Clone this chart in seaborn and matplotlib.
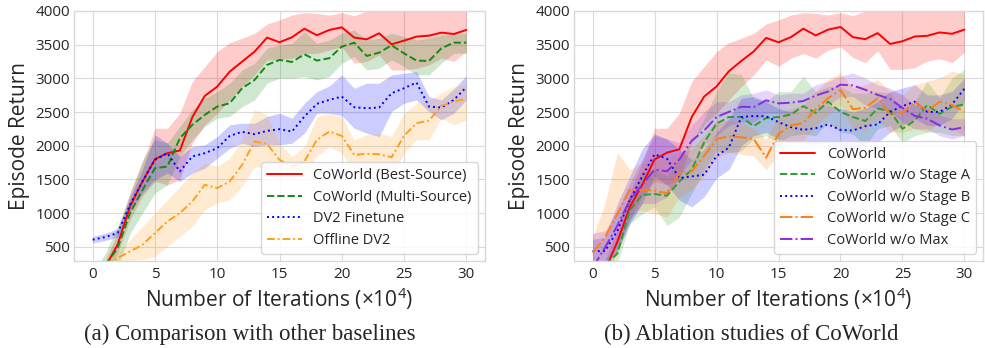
import numpy as np
import pandas as pd
import matplotlib
matplotlib.use("Agg")
import matplotlib.pyplot as plt
import seaborn as sns

# ---------------- data ----------------
iters = list(range(0, 31))

# (a) Comparison with other baselines
best_mean = [0, 200, 532, 1100, 1470, 1801, 1890, 1930, 2424, 2740, 2878, 3100, 3249, 3397, 3605, 3536,
             3610, 3738, 3640, 3718, 3758, 3605, 3580, 3669, 3506, 3560, 3620, 3634, 3679, 3659, 3718]
best_low = [0, 100, 400, 900, 1250, 1470, 1420, 1495, 2040, 2310, 2483, 2680, 2880, 3050, 3274, 3274,
            3300, 3370, 3370, 3420, 3470, 3225, 3250, 3350, 3125, 3125, 3150, 3200, 3300, 3250, 3400]
best_up = [100, 300, 700, 1300, 1750, 2260, 2260, 2483, 2953, 3175, 3397, 3530, 3595, 3669, 3807, 3867,
           3940, 3975, 3965, 3940, 3975, 3930, 4000, 4010, 4020, 4000, 4010, 4020, 4010, 4020, 4020]

multi_mean = [0, 220, 482, 1000, 1347, 1668, 1692, 2113, 2310, 2458, 2582, 2631, 2854, 2977, 3200, 3274,
              3244, 3358, 3264, 3300, 3471, 3530, 3333, 3382, 3491, 3372, 3264, 3259, 3447, 3530, 3530]
multi_low = [0, 100, 200, 700, 1000, 1300, 1420, 1840, 2088, 2285, 2410, 2434, 2582, 2680, 2928, 3002,
             3002, 3027, 2977, 3027, 3224, 3323, 3125, 3150, 3274, 3175, 3052, 3052, 3224, 3372, 3372]
multi_up = [100, 400, 800, 1300, 1790, 2088, 2040, 2285, 2533, 2705, 2804, 2928, 3125, 3224, 3447, 3496,
            3520, 3693, 3520, 3570, 3669, 3718, 3570, 3595, 3669, 3620, 3570, 3595, 3644, 3669, 3669]

ft_mean = [606, 645, 705, 1125, 1470, 1792, 1890, 1618, 1842, 1890, 1964, 2147, 2207, 2172, 2221, 2246,
           2211, 2434, 2622, 2681, 2730, 2572, 2557, 2567, 2780, 2854, 2938, 2582, 2567, 2681, 2869]
ft_low = [556, 595, 645, 1020, 1300, 1495, 1594, 1470, 1594, 1668, 1816, 1964, 2038, 1989, 2014, 2014,
          2038, 2187, 2483, 2483, 2449, 2261, 2187, 2137, 2508, 2631, 2680, 2508, 2384, 2483, 2680]
ft_up = [655, 700, 770, 1230, 1650, 2162, 2040, 1840, 1990, 2014, 2137, 2310, 2335, 2335, 2434, 2483,
         2409, 2631, 2804, 2888, 3052, 2854, 2928, 2928, 3052, 3076, 3100, 2730, 2681, 2844, 3042]

off_mean = [100, 200, 333, 432, 531, 704, 877, 1000, 1174, 1421, 1372, 1470, 1717, 2063, 2028, 1792,
            1693, 1767, 2088, 2211, 2147, 1865, 1880, 1875, 1830, 2147, 2335, 2374, 2592, 2656, 2696]
off_low = [50, 120, 250, 300, 310, 358, 507, 655, 803, 1050, 1150, 1200, 1397, 1693, 1668, 1495,
           1495, 1594, 1842, 1989, 1890, 1594, 1594, 1594, 1545, 1890, 2088, 2088, 2410, 2310, 2384]
off_up = [150, 280, 420, 600, 803, 1000, 1200, 1397, 1594, 1742, 1693, 1816, 2088, 2533, 2458, 2038,
          1840, 1990, 2434, 2483, 2434, 2088, 2162, 2187, 2137, 2483, 2631, 2680, 2780, 2878, 2903]

# (b) Ablation studies of CoWorld
cow_mean = [0, 150, 577, 1090, 1420, 1797, 1898, 1948, 2427, 2730, 2880, 3107, 3259, 3400, 3601, 3536,
            3612, 3738, 3637, 3723, 3763, 3612, 3582, 3672, 3511, 3551, 3622, 3632, 3682, 3662, 3723]
cow_low = [0, 80, 420, 900, 1250, 1470, 1420, 1495, 2040, 2310, 2483, 2680, 2880, 3050, 3274, 3180,
           3300, 3370, 3300, 3420, 3470, 3310, 3234, 3410, 3133, 3133, 3158, 3259, 3290, 3234, 3385]
cow_up = [100, 300, 750, 1300, 1750, 2260, 2260, 2483, 2953, 3175, 3397, 3530, 3595, 3669, 3807, 3867,
          3940, 3975, 3965, 3940, 3975, 3930, 4000, 4010, 4020, 4000, 4010, 4020, 4010, 4020, 4020]

noA_mean = [0, 230, 400, 1043, 1270, 1284, 1259, 1470, 1647, 2050, 2327, 2427, 2427, 2292, 2412, 2427,
            2463, 2589, 2488, 2654, 2503, 2427, 2367, 2553, 2513, 2251, 2377, 2604, 2473, 2579, 2614]
noA_low = [0, 150, 250, 840, 990, 1093, 816, 940, 1294, 1647, 1924, 1900, 1924, 2100, 2150, 2050,
           2150, 2175, 2150, 2352, 2201, 2175, 2000, 2251, 2302, 2050, 2150, 2201, 2201, 2150, 2150]
noA_up = [100, 320, 560, 1243, 1600, 1647, 1550, 1797, 2050, 2402, 2805, 3082, 3057, 2705, 2654, 2805,
          2805, 3032, 2805, 2880, 2880, 2780, 2780, 2805, 2780, 2503, 2654, 2956, 2705, 3006, 3133]

noB_mean = [437, 437, 740, 1193, 1546, 1873, 1808, 1521, 1546, 1570, 1848, 1974, 2427, 2442, 2437, 2352,
            2276, 2236, 2261, 2317, 2236, 2226, 2292, 2317, 2503, 2589, 2654, 2503, 2503, 2614, 2846]
noB_low = [260, 240, 440, 840, 1143, 1546, 1420, 1193, 1093, 1243, 1521, 1647, 2000, 2150, 2200, 2100,
           2050, 2024, 2024, 2050, 1950, 1950, 2050, 2050, 2200, 2302, 2402, 2302, 2302, 2402, 2654]
noB_up = [613, 640, 1143, 1546, 1950, 2175, 2100, 1950, 1797, 1950, 2200, 2402, 2705, 2730, 2654, 2553,
          2503, 2478, 2553, 2604, 2553, 2503, 2553, 2654, 2805, 2856, 2906, 2755, 2755, 2805, 3006]

noC_mean = [412, 640, 990, 1346, 1346, 1335, 1294, 1596, 1621, 1848, 2100, 2141, 2125, 2100, 1823, 2175,
            2302, 2337, 2543, 2705, 2831, 2543, 2563, 2705, 2468, 2493, 2654, 2513, 2654, 2604, 2503]
noC_low = [235, 335, 640, 1043, 1043, 990, 940, 1243, 1344, 1546, 1823, 1900, 1874, 1848, 1647, 1874,
           2050, 2075, 2302, 2453, 2604, 2251, 2251, 2402, 2201, 2201, 2251, 2201, 2352, 2251, 2150]
noC_up = [640, 1143, 1900, 1647, 1747, 1848, 1797, 1900, 1950, 2150, 2377, 2377, 2352, 2251, 2100, 2453,
          2553, 2604, 2805, 2982, 3082, 2856, 2906, 2982, 2805, 2755, 2906, 2956, 3006, 3107, 3057]

noMax_mean = [190, 488, 815, 1193, 1420, 1647, 1621, 1797, 2075, 2226, 2427, 2503, 2579, 2574, 2674, 2629,
              2639, 2664, 2745, 2805, 2906, 2896, 2831, 2755, 2695, 2563, 2443, 2402, 2302, 2241, 2276]
noMax_low = [50, 286, 540, 890, 1143, 1143, 1243, 1546, 1797, 2000, 2150, 2302, 2352, 2352, 2478, 2478,
             2478, 2478, 2553, 2604, 2730, 2730, 2604, 2553, 2503, 2352, 2251, 2251, 2150, 2100, 2150]
noMax_up = [700, 740, 1043, 1445, 1797, 2150, 2100, 2050, 2302, 2503, 2654, 2654, 2755, 2780, 2830, 2755,
            2780, 2780, 2906, 2956, 3032, 3082, 3006, 2906, 2856, 2755, 2604, 2553, 2453, 2402, 2402]

labels_a = ["CoWorld (Best-Source)", "CoWorld (Multi-Source)", "DV2 Finetune", "Offline DV2"]
labels_b = ["CoWorld", "CoWorld w/o Stage A", "CoWorld w/o Stage B", "CoWorld w/o Stage C", "CoWorld w/o Max"]
yticks = [500, 1000, 1500, 2000, 2500, 3000, 3500, 4000]
xticks = [0, 5, 10, 15, 20, 25, 30]

series_a = [(best_mean, best_low, best_up), (multi_mean, multi_low, multi_up),
            (ft_mean, ft_low, ft_up), (off_mean, off_low, off_up)]
series_b = [(cow_mean, cow_low, cow_up), (noA_mean, noA_low, noA_up), (noB_mean, noB_low, noB_up),
            (noC_mean, noC_low, noC_up), (noMax_mean, noMax_low, noMax_up)]

styles_a = [("#ff0000", "-"), ("#138a13", "--"), ("#0000ff", ":"), ("#ff9f1c", (0, (4, 1.5, 1, 1.5)))]
styles_b = [("#ff0000", "-"), ("#2ca02c", "--"), ("#0000ff", ":"), ("#ff7f0e", "-."), ("#8a2be2", "-.")]

# ---------------- style ----------------
sns.set_style("whitegrid")
plt.rcParams["font.family"] = ["Open Sans", "DejaVu Sans"]
plt.rcParams["axes.edgecolor"] = "#d9d9d9"
plt.rcParams["grid.color"] = "#dadada"
plt.rcParams["mathtext.fontset"] = "custom"
plt.rcParams["mathtext.rm"] = "Open Sans"
plt.rcParams["mathtext.it"] = "Open Sans"

fig = plt.figure(figsize=(9.85, 3.48), dpi=100)
ax_a = fig.add_axes([74 / 985, 87 / 348, 411 / 985, 250 / 348])
ax_b = fig.add_axes([574 / 985, 87 / 348, 409 / 985, 250 / 348])


def draw(ax, series, labels, styles):
    for (m, lo, up), lab, (c, ls) in zip(series, labels, styles):
        df = pd.DataFrame({"it": iters, "ret": m})
        ax.fill_between(iters, lo, up, color=c, alpha=0.2, linewidth=0)
        sns.lineplot(data=df, x="it", y="ret", ax=ax, color=c, linestyle=ls,
                     linewidth=1.4, label=lab)
    ax.set_xlim(-1.5, 31.5)
    ax.set_ylim(290, 4000)
    ax.set_xticks(xticks)
    ax.set_yticks(yticks)
    ax.tick_params(labelsize=11, length=0, colors="#262626")
    ax.tick_params(axis="x", pad=4)
    ax.tick_params(axis="y", pad=3)
    ax.set_xlabel(r"Number of Iterations ($\times 10^4$)", fontsize=15, labelpad=3, color="#262626")
    ax.set_ylabel("Episode Return", fontsize=15, labelpad=4, color="#262626")
    ax.legend(loc="lower right", fontsize=10.5, handlelength=2.4, framealpha=0.85,
              borderaxespad=0.5, labelspacing=0.45, edgecolor="#d0d0d0")
    for s in ax.spines.values():
        s.set_linewidth(1.0)


draw(ax_a, series_a, labels_a, styles_a)
draw(ax_b, series_b, labels_b, styles_b)

fig.text(250 / 985, 1 - 334 / 348, "(a) Comparison with other baselines", ha="center", va="center",
         fontsize=16.5, family="Liberation Serif")
fig.text(751 / 985, 1 - 334 / 348, "(b) Ablation studies of CoWorld", ha="center", va="center",
         fontsize=16.5, family="Liberation Serif")

fig.savefig("out.png", dpi=100)
